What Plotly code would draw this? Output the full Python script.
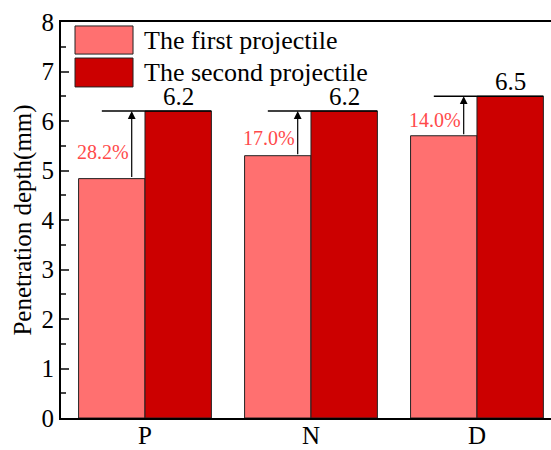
import plotly.graph_objects as go

# Penetration depth per target type
categories = ["P", "N", "D"]
first_projectile = [4.836, 5.299, 5.702]
second_projectile = [6.2, 6.2, 6.5]
second_labels = ["6.2", "6.2", "6.5"]
increase_labels = ["28.2%", "17.0%", "14.0%"]
y_ticks = [0, 1, 2, 3, 4, 5, 6, 7, 8]

FONT = "Liberation Serif, Times New Roman, serif"
C_FIRST = "#FF7070"
C_SECOND = "#CC0000"
C_PCT = "#FF4A4A"

fig = go.Figure()
fig.add_trace(go.Bar(
    x=categories, y=first_projectile, name="The first projectile",
    marker=dict(color=C_FIRST, line=dict(color="#222222", width=1)),
    showlegend=False,
))
fig.add_trace(go.Bar(
    x=categories, y=second_projectile, name="The second projectile",
    marker=dict(color=C_SECOND, line=dict(color="#222222", width=1)),
    showlegend=False,
))

annotations = []
shapes = []
for i, cat in enumerate(categories):
    lo, hi = first_projectile[i], second_projectile[i]
    # reference line at the second projectile depth
    shapes.append(dict(type="line", xref="x", yref="y",
                       x0=i - 0.26, x1=i + 0.4, y0=hi, y1=hi,
                       line=dict(color="black", width=1.5)))
    # upward arrow from first depth to second depth
    annotations.append(dict(x=i - 0.08, y=hi, ax=i - 0.08, ay=lo,
                            xref="x", yref="y", axref="x", ayref="y",
                            text="", showarrow=True, arrowhead=2,
                            arrowsize=1.3, arrowwidth=1.2, arrowcolor="black"))
    annotations.append(dict(x=i - 0.25, y=lo + 0.4 * (hi - lo), xref="x", yref="y",
                            text=increase_labels[i], showarrow=False,
                            xanchor="center", yanchor="middle",
                            font=dict(family=FONT, size=20, color=C_PCT)))
    annotations.append(dict(x=i + 0.2, y=hi, xref="x", yref="y",
                            text=second_labels[i], showarrow=False,
                            xanchor="center", yanchor="bottom", yshift=-1,
                            font=dict(family=FONT, size=25, color="black")))

# legend drawn with large swatches
legend_items = [("The first projectile", C_FIRST, 0.990, 0.919),
                ("The second projectile", C_SECOND, 0.909, 0.836)]
for name, color, y1, y0 in legend_items:
    shapes.append(dict(type="rect", xref="paper", yref="paper",
                       x0=0.0286, x1=0.147, y0=y0, y1=y1,
                       fillcolor=color, line=dict(color="#222222", width=1)))
    annotations.append(dict(x=0.165, y=(y0 + y1) / 2, xref="paper", yref="paper",
                            text=name, showarrow=False,
                            xanchor="left", yanchor="middle",
                            font=dict(family=FONT, size=26, color="black")))

fig.update_layout(
    width=551, height=450,
    margin=dict(l=61, r=0, t=22, b=32, autoexpand=False),
    paper_bgcolor="white", plot_bgcolor="white",
    barmode="group", bargap=0.2, bargroupgap=0,
    font=dict(family=FONT, size=25, color="black"),
    shapes=shapes, annotations=annotations,
)
fig.update_xaxes(
    range=[-0.506, 2.446], showgrid=False, showline=True, linecolor="black",
    linewidth=2, mirror=True, ticks="", automargin=False,
    ticklabelstandoff=-6, tickfont=dict(family=FONT, size=25),
)
fig.update_yaxes(
    range=[0, 8], tickvals=y_ticks, showgrid=False, showline=True,
    linecolor="black", linewidth=2, ticks="inside", ticklen=8, tickwidth=2,
    minor=dict(ticks="inside", ticklen=5, tickwidth=1.5, dtick=0.5, tick0=0),
    zeroline=False, automargin=False, tickfont=dict(family=FONT, size=25),
    title=dict(text="Penetration depth(mm)", font=dict(family=FONT, size=25), standoff=3),
)

fig.write_html("out.html")
